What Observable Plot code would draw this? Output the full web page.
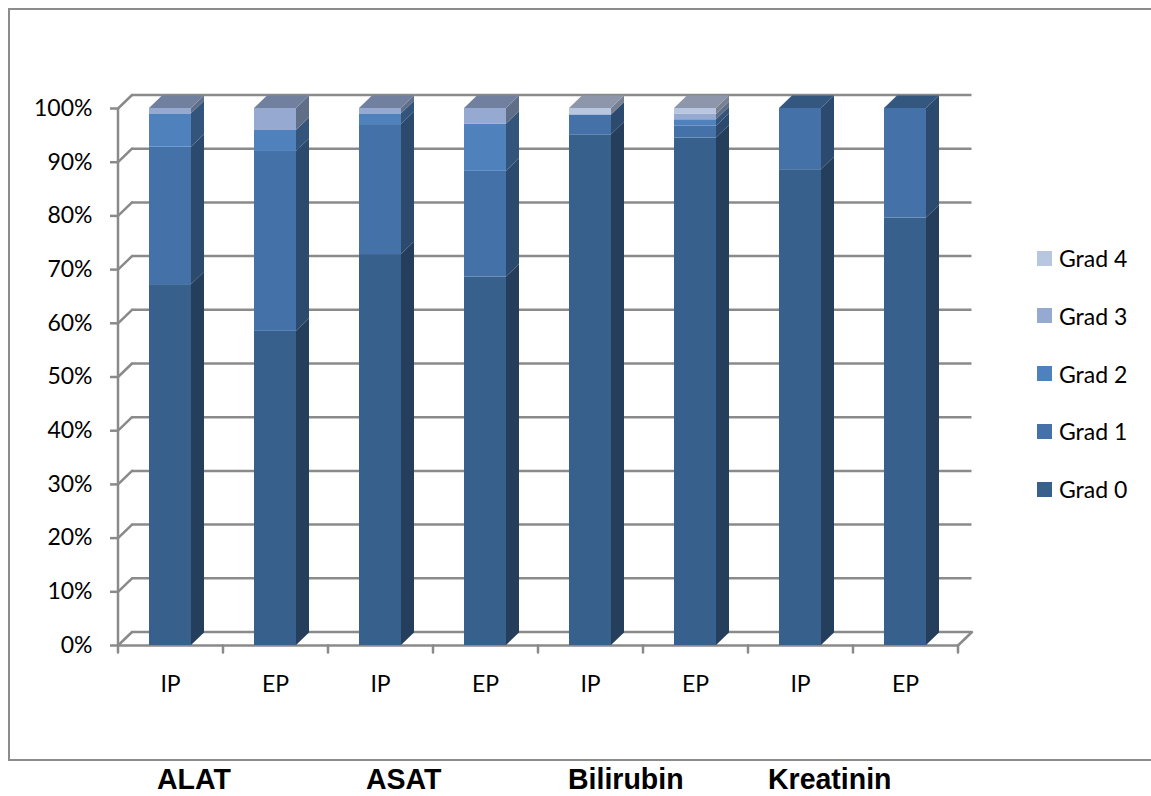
<!DOCTYPE html>
<html>
<head>
<meta charset="utf-8">
<script src="https://cdn.jsdelivr.net/npm/d3@7"></script>
<script src="https://cdn.jsdelivr.net/npm/@observablehq/plot@0.6"></script>
<style>
  html, body { margin: 0; padding: 0; background: #fff; overflow: hidden; }
  #wrap { position: relative; width: 1151px; height: 796px; overflow: hidden; font-family: Lato, "Open Sans", sans-serif; }
  #box { position: absolute; left: 8px; top: 8px; width: 1170px; height: 753px; border: 2px solid #8c8c8c; box-sizing: border-box; }
  #chart { position: absolute; left: 0; top: 0; }
  .leg { position: absolute; left: 1037px; height: 24px; display: flex; align-items: center; font-size: 23px; color: #000; line-height: 24px; white-space: nowrap; }
  .leg .sw { width: 15px; height: 15px; margin-right: 7px; }
  .grp { position: absolute; top: 762px; font-family: "Liberation Sans", Arial, sans-serif; font-weight: bold; font-size: 30px; line-height: 33px; height: 33px; color: #000; transform: scaleX(0.95); transform-origin: left top; white-space: nowrap; }
</style>
</head>
<body>
<div id="wrap">
  <div id="box"></div>
  <div id="chart"></div>
</div>
<script>
// ---- data (percent of patients per toxicity grade) ----
const groups = ["ALAT", "ASAT", "Bilirubin", "Kreatinin"];
const phases = ["IP", "EP"];
const grades = ["Grad 0", "Grad 1", "Grad 2", "Grad 3", "Grad 4"];
// order of bars: ALAT IP, ALAT EP, ASAT IP, ASAT EP, Bilirubin IP, Bilirubin EP, Kreatinin IP, Kreatinin EP
const grad0 = [67.2, 58.5, 72.8, 68.6, 95.1, 94.5, 88.6, 79.6];
const grad1 = [25.6, 33.5, 24.2, 19.7, 3.7, 2.2, 11.4, 20.4];
const grad2 = [6.2, 3.9, 2.0, 8.8, 0.0, 1.2, 0.0, 0.0];
const grad3 = [1.0, 4.1, 1.0, 2.9, 0.0, 1.0, 0.0, 0.0];
const grad4 = [0.0, 0.0, 0.0, 0.0, 1.2, 1.1, 0.0, 0.0];
const yTicks = [0, 10, 20, 30, 40, 50, 60, 70, 80, 90, 100];

// ---- styles ----
const frontColors = ["#37608c", "#4472a8", "#4f81bd", "#95a9d1", "#b9c6e0"];
const scaleColor = (c, f) => { const r = d3.rgb(c); return d3.rgb(r.r * f, r.g * f, r.b * f).formatHex(); };
const sideColors = frontColors.map(c => scaleColor(c, 0.65));
const topColors = frontColors.map(c => scaleColor(c, 0.76));
const gridColor = "#8a8a8a";

const W = 1151, H = 760;
const ML = 117.5, MR = 193.5, MT = 108, MB = 115;
const D = 13, DV = 12.5;          // bar depth (px)
const WDX = 14, WDY = -13.5;      // wall depth (px)

const series = [grad0, grad1, grad2, grad3, grad4];
const keys = groups.flatMap(g => phases.map(p => g + " " + p));
const rows = keys.flatMap((k, i) => grades.map((g, j) => ({key: k, grade: g, gi: j, value: series[j][i]})));
const tops = keys.map((k, i) => {
  let gi = 0;
  series.forEach((s, j) => { if (s[i] > 0) gi = j; });
  const total = d3.sum(series, s => s[i]);
  return {key: k, gi, total};
});
const halfStep = (W - ML - MR) / keys.length / 2;
const wallLen = Math.hypot(WDX, WDY);
const wallAngle = Math.atan2(WDX, -WDY) * 180 / Math.PI;

const chart = Plot.plot({
  width: W, height: H,
  marginLeft: ML, marginRight: MR, marginTop: MT, marginBottom: MB,
  style: {fontFamily: "Lato, 'Open Sans', sans-serif", fontSize: "23px", background: "transparent", color: "#000", overflow: "visible"},
  x: {type: "band", domain: keys, paddingInner: 0.6, paddingOuter: 0.3, label: null},
  y: {domain: [0, 100], label: null},
  color: {domain: grades, range: frontColors},
  marks: [
    // back wall grid lines
    Plot.ruleY(yTicks, {dx: WDX, dy: WDY, stroke: gridColor, strokeWidth: 2.5}),
    // side-wall connectors
    Plot.vector(yTicks, {x: () => keys[0], y: d => d, dx: -halfStep, anchor: "start", length: wallLen, rotate: wallAngle, r: 0, stroke: gridColor, strokeWidth: 2.5}),
    Plot.vector([0], {x: () => keys[keys.length - 1], y: d => d, dx: halfStep, anchor: "start", length: wallLen, rotate: wallAngle, r: 0, stroke: gridColor, strokeWidth: 2.5}),
    // front floor edge and left axis line
    Plot.ruleY([0], {stroke: gridColor, strokeWidth: 2.5}),
    Plot.ruleX([keys[0]], {y1: 0, y2: 100, dx: -halfStep, stroke: gridColor, strokeWidth: 2.5}),
    // category boundary ticks
    Plot.vector(keys, {x: d => d, y: 0, dx: -halfStep, anchor: "start", length: 7, rotate: 180, r: 0, stroke: gridColor, strokeWidth: 2.5}),
    Plot.vector([keys[keys.length - 1]], {x: d => d, y: 0, dx: halfStep, anchor: "start", length: 7, rotate: 180, r: 0, stroke: gridColor, strokeWidth: 2.5}),
    // axes
    Plot.axisY({ticks: yTicks, tickFormat: d => d + "%", tickSize: 7.5, tickPadding: 18, stroke: gridColor, strokeWidth: 2.5, fill: "#000", label: null}),
    Plot.axisX({tickSize: 0, tickPadding: 30, tickFormat: k => k.split(" ")[1], fill: "#000", label: null}),
    // 3D bars: side faces, front faces, top faces (in this order)
    Plot.barY(rows, {x: "key", y: "value", z: "grade", fill: d => sideColors[d.gi]}),
    Plot.barY(rows, {x: "key", y: "value", z: "grade", fill: "grade"}),
    Plot.barY(tops, {x: "key", y1: "total", y2: "total", fill: d => topColors[d.gi]})
  ]
});

// turn side and top rectangles into parallelograms (3D look)
const barGroups = Array.from(chart.querySelectorAll('g[aria-label="bar"]'));
const sideGroup = barGroups[0], topGroup = barGroups[2];
const k = DV / D, m = D / DV;
if (sideGroup) sideGroup.querySelectorAll("rect").forEach(function (el) {
  const x = +el.getAttribute("x"), w = +el.getAttribute("width");
  const X = x + w;
  el.setAttribute("x", X);
  el.setAttribute("width", D);
  el.setAttribute("transform", `matrix(1,${-k},0,1,0,${k * X})`);
});
if (topGroup) topGroup.querySelectorAll("rect").forEach(function (el) {
  const y = +el.getAttribute("y");
  el.setAttribute("y", y - DV);
  el.setAttribute("height", DV);
  el.setAttribute("transform", `matrix(1,0,${-m},1,${m * y},0)`);
});

document.getElementById("chart").appendChild(chart);

// legend (Grad 4 on top)
const wrap = d3.select("#wrap");
grades.slice().reverse().forEach((g, i) => {
  const gi = grades.indexOf(g);
  const row = wrap.append("div").attr("class", "leg").style("top", (246 + i * 57.75) + "px");
  row.append("div").attr("class", "sw").style("background", frontColors[gi]);
  row.append("span").text(g);
});

// group labels under the frame
const groupLeft = [157, 366, 568, 768];
groups.forEach((g, i) => {
  wrap.append("div").attr("class", "grp").style("left", groupLeft[i] + "px").text(g);
});
</script>
</body>
</html>
